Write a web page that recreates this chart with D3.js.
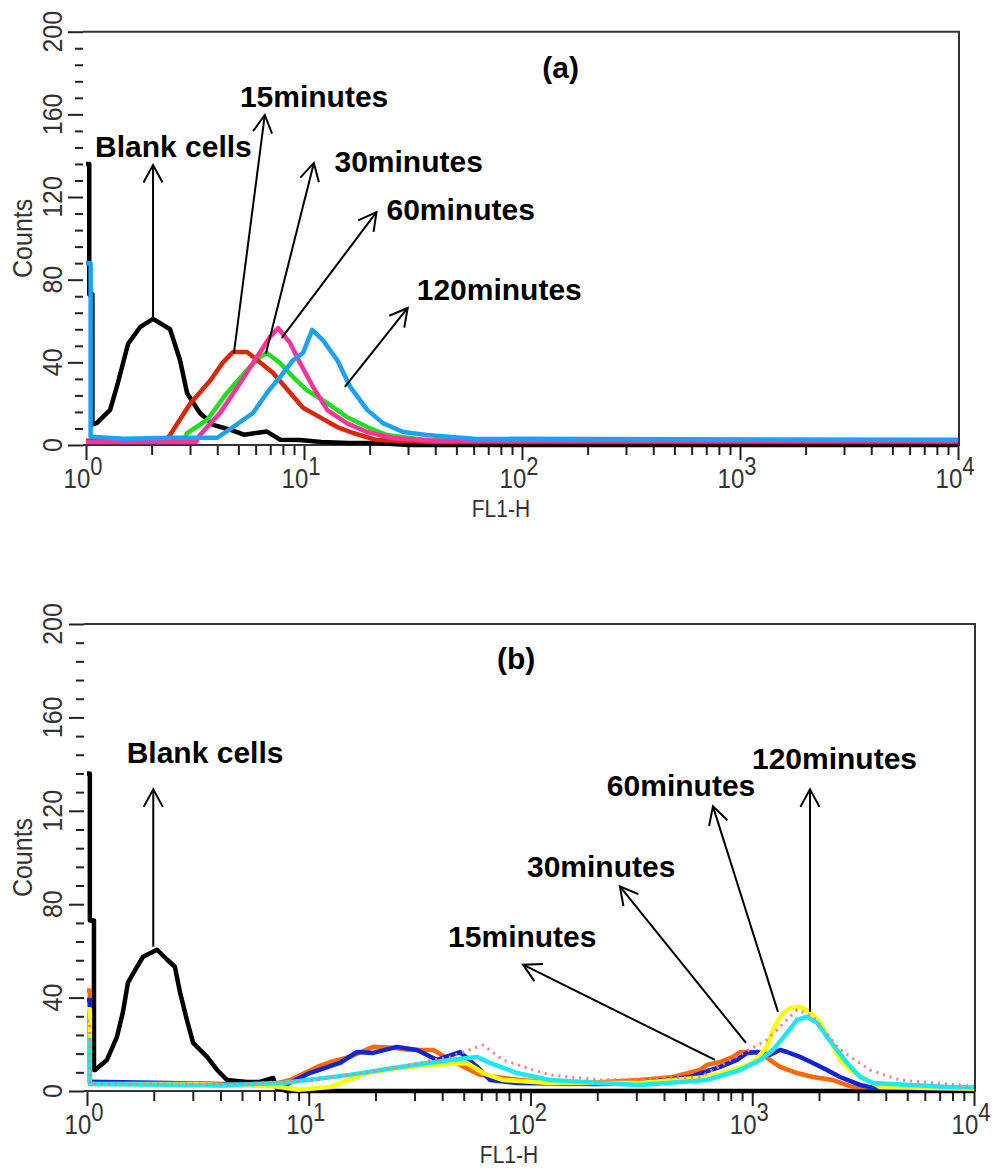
<!DOCTYPE html>
<html>
<head>
<meta charset="utf-8">
<script src="https://cdn.jsdelivr.net/npm/d3@7/dist/d3.min.js"></script>
<style>
  body { margin: 0; background: #fff; }
  svg text { font-family: "Liberation Sans", Arial, Helvetica, sans-serif; }
</style>
</head>
<body>
<div id="chart"></div>
<script>
// ---- tick values / labels ----
var yMajor = [0, 40, 80, 120, 160, 200];
var yLabels = ["0", "40", "80", "120", "160", "200"];
var xDecades = [1, 10, 100, 1000, 10000];
var xExponents = ["0", "1", "2", "3", "4"];

// ---- panel (a): [FL1-H, counts] ----
var blankA = [[1,136],[1.035,136],[1.035,73],[1.07,73],[1.07,10],[1.12,10.6],[1.29,17],[1.40,30],[1.56,49],[1.77,57],[2.03,61],[2.43,56],[2.70,41],[2.91,25],[3.33,15.5],[3.83,9.7],[4.72,7],[5.3,5],[6.76,6.5],[7.8,2.5],[9.6,2.4],[12,1.5],[16,1],[22,1],[30,0],[10000,0]];
var min15A = [[1,2],[2.3,2],[2.43,4.8],[3.0,20],[3.7,31],[4.25,40],[4.72,45],[5.48,45],[6.28,40],[7.2,35],[8.36,27],[9.9,18],[11.8,13.5],[14.2,8.7],[16.8,5.8],[21.6,2.4],[40,1.5],[10000,1.5]];
var min30A = [[1,2],[2.8,2],[2.91,5.8],[3.59,12.1],[4.43,25.2],[5.48,36.3],[6.28,42.6],[6.76,44.5],[7.76,39.7],[8.91,32.9],[10.3,26.6],[12.8,20.3],[15.7,13.6],[19.5,8.7],[24,4.8],[35,2.5],[10000,2]];
var min60A = [[1,1.5],[3.2,1.5],[3.33,4.8],[4.12,15.5],[5.09,30],[6.08,42.6],[6.98,52.3],[7.6,56.6],[8.63,49.4],[9.59,39.7],[11,28.1],[12.8,16.9],[15.7,10.6],[19.5,6.3],[25.6,3.4],[40,2],[10000,2]];
var min120A = [[1,88],[1.05,88],[1.05,4],[1.5,3],[2.5,3.5],[4.0,3.5],[4.72,8.7],[5.83,15.5],[6.76,25.2],[7.76,32.9],[8.91,41.1],[9.89,44.5],[10.9,55.7],[12.2,50.8],[14.2,41.1],[16.3,28.1],[19.5,17],[23,10.6],[28.5,6.3],[36.6,4.8],[60,3],[10000,2.5]];

// ---- panel (b) ----
var blankB = [[1,136],[1.03,136],[1.03,73],[1.075,73],[1.075,9],[1.087,9],[1.23,13.3],[1.365,23.2],[1.45,33.5],[1.53,46.4],[1.65,51.9],[1.79,57.5],[2.07,60.5],[2.30,56.2],[2.49,53.2],[2.63,42.1],[2.82,30.5],[3.01,20.6],[3.48,14.6],[3.86,9],[4.28,4.7],[5.27,3.9],[6.03,3.9],[6.9,5.6],[7.2,1],[8,0],[10000,0]];
var orangeB = [[1,43],[1.03,43],[1.03,4],[2,3],[4,2.5],[7,3],[8.25,4.7],[10.9,10.3],[12.5,12.4],[15.3,14.6],[19.5,18.9],[24,18.5],[28.6,17.6],[36.4,17.6],[43.4,13.3],[59.3,6.9],[89.6,4.7],[150,3],[311,4.7],[439,6],[581,9],[625,11.2],[716,12.4],[819,14.6],[881,16.7],[977,16.7],[1084,16.3],[1241,12.4],[1334,10.3],[1592,7.7],[1878,6],[2312,4.7],[2846,1.7],[10000,1]];
var navyB = [[1,39],[1.03,39],[1.03,4],[2,3.5],[4,3],[8,3],[10.1,7.7],[13.8,12],[16.5,16.7],[19.5,16.3],[25,18.9],[30.8,17.6],[37.9,13.3],[48.1,16.7],[57.4,10.3],[65.7,4.7],[86.9,3.4],[200,3],[311,3.4],[524,6],[716,10.3],[853,13.3],[947,16.3],[1050,16.7],[1202,15.5],[1334,17.6],[1435,16.7],[1641,14.6],[1878,12],[2173,9],[2488,6],[3063,2.6],[3508,1.3],[10000,1]];
var yellowB = [[1,35],[1.03,35],[1.03,3],[3,3],[7,2],[9,0.5],[12.5,1.7],[18.3,7.7],[25.8,9.9],[36.3,11.2],[51.7,12],[61.1,7.7],[75.2,4.7],[122,3.4],[311,3.4],[625,6],[819,9],[1008,12],[1164,18.9],[1241,26.2],[1334,31.8],[1480,35.6],[1641,36.1],[1821,33.9],[2021,29.2],[2242,21.9],[2488,13.3],[2760,9],[3289,4.7],[3767,1.7],[10000,1]];
var cyanB = [[1,22],[1.03,22],[1.03,3],[4,2.5],[7.65,3.4],[15.3,6.9],[25.8,10.3],[43.4,13.3],[57.4,14.6],[65.7,12],[86.9,7.7],[122,4.7],[206,3.4],[311,2.6],[625,4.7],[881,9],[1084,13.3],[1241,17.6],[1435,24.9],[1592,30.5],[1766,31.8],[1960,29.2],[2173,23.2],[2411,17.6],[2674,12],[3063,6],[3508,3.4],[7797,1.7],[10000,1.5]];
var salmonB = [[1,30],[1.03,30],[1.03,3],[5,3],[10.9,4.7],[21.6,9],[43.4,14.6],[61.1,19.7],[75.2,13.3],[103,9],[122,6.9],[206,4.7],[581,6],[1164,21.9],[1592,34.8],[1878,31.8],[2488,17.6],[3396,9],[4636,4.7],[10000,2]];

// ---- annotations: label position, arrow tail (on curve) and head, in data units ----
var notesA = [
  {text: "Blank cells", at: [1.10, 139.4], from: [2.03, 61.5], to: [2.03, 135.5]},
  {text: "15minutes",   at: [5.08, 163.6], from: [4.77, 44.5], to: [6.61, 159.7]},
  {text: "30minutes",   at: [13.8, 132.1], from: [6.68, 44],   to: [11.1, 136.5]},
  {text: "60minutes",   at: [23.9, 108.9], from: [7.91, 51.8], to: [21.5, 112.7]},
  {text: "120minutes",  at: [32.9, 70.2],  from: [15.4, 28.1], to: [29.9, 66.3]}
];
var notesB = [
  {text: "Blank cells", at: [1.51, 140.3], from: [1.99, 61.8], to: [1.99, 129.2]},
  {text: "15minutes",   at: [42.5, 61.8],  from: [679, 13.3],  to: [92.5, 54.1]},
  {text: "30minutes",   at: [96.4, 91.8],  from: [937, 20.6],  to: [253, 87.6]},
  {text: "60minutes",   at: [221, 126.2],  from: [1306, 33.9], to: [665, 121.9]},
  {text: "120minutes",  at: [997, 137.8],  from: [1821, 33.9], to: [1821, 129.2]}
];

var svg = d3.select("#chart").append("svg")
    .attr("width", 995)
    .attr("height", 1170);

function drawPanel(p) {
  var x = d3.scaleLog().domain([1, 10000]).range([p.left, p.right]);
  var y = d3.scaleLinear().domain([0, 200]).range([p.bottom, p.top]);
  var g = svg.append("g");
  var axisX = p.left - 3;

  // y ticks only, no axis line
  var yMinor = d3.range(0, 201, 8).filter(function(v) { return yMajor.indexOf(v) < 0; });
  g.append("g")
      .attr("transform", "translate(" + axisX + ",0)")
      .call(d3.axisLeft(y).tickValues(yMinor).tickSize(8).tickFormat(""))
      .call(function(s) { s.select(".domain").remove(); });
  g.append("g")
      .attr("transform", "translate(" + axisX + ",0)")
      .call(d3.axisLeft(y).tickValues(yMajor).tickSize(15).tickFormat(""))
      .call(function(s) { s.select(".domain").remove(); });

  yMajor.forEach(function(v, i) {
    g.append("text")
        .attr("transform", "translate(62," + y(v) + ") rotate(-90) scale(1,1.12)")
        .attr("text-anchor", "middle")
        .style("font-size", "25px")
        .attr("fill", "#333")
        .text(yLabels[i]);
  });
  g.append("text")
      .attr("transform", "translate(32," + y(100) + ") rotate(-90) scale(1,1.1)")
      .attr("text-anchor", "middle")
      .style("font-size", "25px")
      .attr("fill", "#333")
      .text("Counts");

  // x ticks
  var xMinor = [];
  [1, 10, 100, 1000].forEach(function(d) {
    for (var k = 2; k < 10; k++) xMinor.push(d * k);
  });
  g.append("g")
      .attr("transform", "translate(0," + p.bottom + ")")
      .call(d3.axisBottom(x).tickValues(xMinor).tickSize(10).tickFormat("").tickSizeOuter(0))
      .call(function(s) { s.select(".domain").remove(); });
  g.append("g")
      .attr("transform", "translate(0," + p.bottom + ")")
      .call(d3.axisBottom(x).tickValues(xDecades).tickSize(15).tickFormat("").tickSizeOuter(0))
      .call(function(s) { s.select(".domain").remove(); });
  g.selectAll(".tick line").attr("stroke", "#222").attr("stroke-width", 2);

  xDecades.forEach(function(v, i) {
    var t = g.append("text")
        .attr("transform", "translate(" + (x(v) - 3) + "," + (p.bottom + 43) + ") scale(1,1.15)")
        .attr("text-anchor", "middle")
        .style("font-size", "24px")
        .attr("fill", "#333");
    t.append("tspan").text("10");
    t.append("tspan").attr("dy", -11).style("font-size", "22px").text(xExponents[i]);
  });
  g.append("text")
      .attr("transform", "translate(" + x(80) + "," + (p.bottom + 72) + ") scale(1,1.1)")
      .attr("text-anchor", "middle")
      .style("font-size", "21px")
      .attr("fill", "#333")
      .text("FL1-H");

  // frame (top, right, bottom)
  g.append("path")
      .attr("d", "M" + axisX + "," + p.top + "H" + (p.right + 1) + "V" + p.bottom + "H" + axisX)
      .attr("fill", "none")
      .attr("stroke", "#333")
      .attr("stroke-width", 2);

  var line = d3.line()
      .x(function(d) { return x(d[0]); })
      .y(function(d) { return y(d[1]); });

  p.series.forEach(function(s) {
    g.append("path")
        .datum(s.values)
        .attr("fill", "none")
        .attr("stroke", s.color)
        .attr("stroke-width", s.width || 4.5)
        .attr("stroke-dasharray", s.dash || null)
        .attr("stroke-linejoin", "round")
        .attr("d", line);
  });

  // annotations
  p.notes.forEach(function(n) {
    var x1 = x(n.from[0]), y1 = y(n.from[1]), x2 = x(n.to[0]), y2 = y(n.to[1]);
    var ang = Math.atan2(y2 - y1, x2 - x1), L = 20, h = 0.5;
    g.append("line")
        .attr("x1", x1).attr("y1", y1).attr("x2", x2).attr("y2", y2)
        .attr("stroke", "#000").attr("stroke-width", 2);
    g.append("path")
        .attr("d", "M" + (x2 - L * Math.cos(ang - h)) + "," + (y2 - L * Math.sin(ang - h)) +
                   "L" + x2 + "," + y2 +
                   "L" + (x2 - L * Math.cos(ang + h)) + "," + (y2 - L * Math.sin(ang + h)))
        .attr("fill", "none").attr("stroke", "#000").attr("stroke-width", 2);
    g.append("text")
        .attr("x", x(n.at[0]))
        .attr("y", y(n.at[1]))
        .style("font-size", "30px")
        .style("font-weight", "bold")
        .attr("fill", "#000")
        .text(n.text);
  });

  g.append("text")
      .attr("x", x(p.tag.at[0]))
      .attr("y", y(p.tag.at[1]))
      .style("font-size", "30px")
      .style("font-weight", "bold")
      .text(p.tag.text);
}

drawPanel({
  left: 86, right: 958, top: 31.7, bottom: 445,
  tag: {text: "(a)", at: [124, 177.6]},
  series: [
    {values: blankA, color: "#000000"},
    {values: min30A, color: "#22dd22"},
    {values: min15A, color: "#d82808"},
    {values: min60A, color: "#ff3399"},
    {values: min120A, color: "#1ba1f5"}
  ],
  notes: notesA
});

drawPanel({
  left: 87, right: 974, top: 624, bottom: 1091,
  tag: {text: "(b)", at: [70.6, 180.7]},
  series: [
    {values: blankB, color: "#000000"},
    {values: orangeB, color: "#ff6a00"},
    {values: navyB, color: "#1024d4"},
    {values: yellowB, color: "#ffff00"},
    {values: cyanB, color: "#1ae8f2"},
    {values: salmonB, color: "#ff7c7c", width: 3, dash: "2,5"}
  ],
  notes: notesB
});
</script>
</body>
</html>
